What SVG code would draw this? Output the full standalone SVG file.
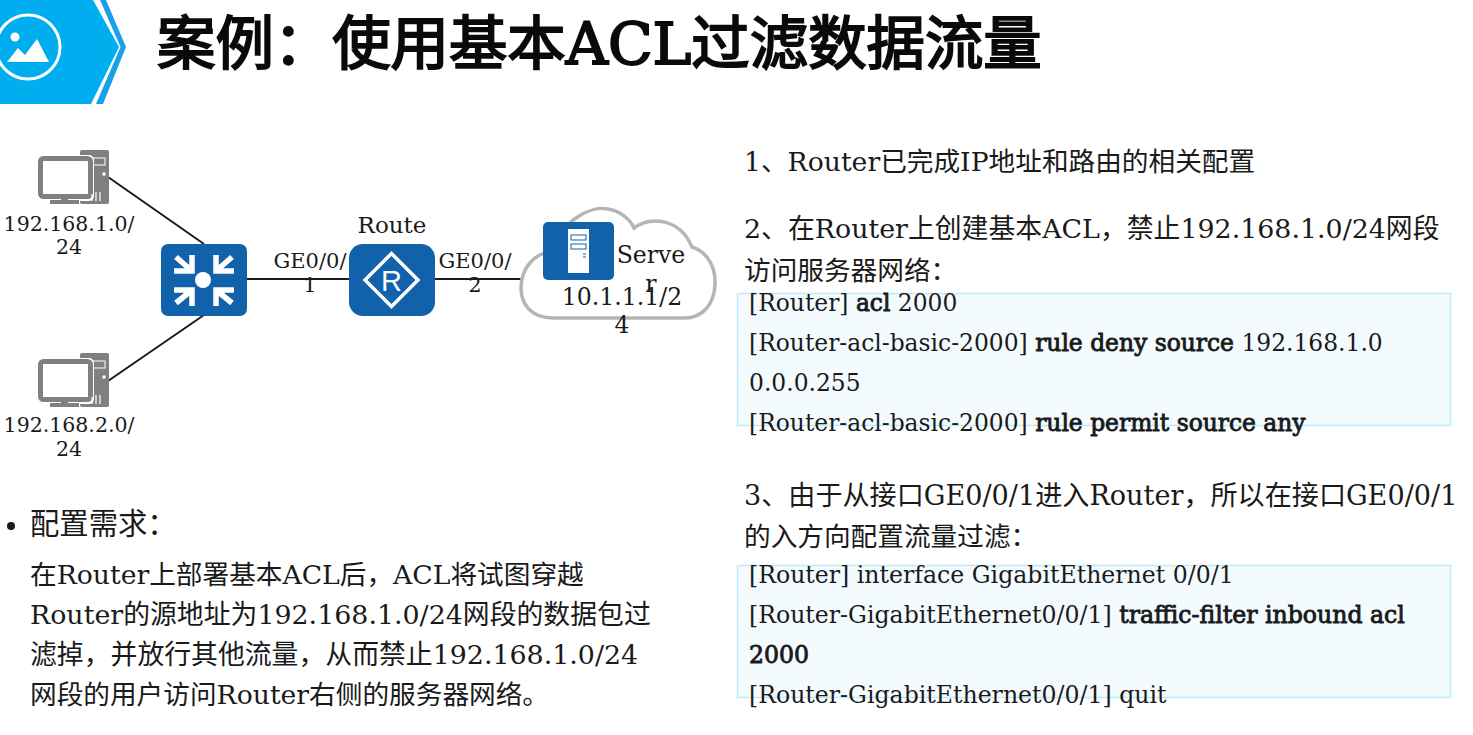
<svg xmlns="http://www.w3.org/2000/svg" width="1473" height="735" viewBox="0 0 1473 735">
<style>
text{font-family:"DejaVu Serif","Noto Sans CJK SC",serif;fill:#1a1a1a}
.t{font-size:26.67px}
.u{font-size:26.85px}
.l{font-size:20.5px;text-anchor:middle}
.g{font-size:21px;text-anchor:middle}
.c{font-size:23.6px;text-anchor:middle}
.s{font-size:23.4px}
.v{font-size:23.6px}
.b{stroke:#1a1a1a;stroke-width:.85px}
.box{fill:#f4fbff;stroke:#bfe9fb;stroke-width:1.5}
.line{stroke:#1a1a1a;stroke-width:2;fill:none}
.tile{fill:#1262ab}
</style>
<defs>
<g id="pc">
<rect x="80" y="0" width="29" height="54" rx="2" fill="#808080"/>
<rect x="91" y="8" width="14" height="7" fill="none" stroke="#fff" stroke-width="1"/>
<rect x="37" y="5" width="57" height="46" rx="5" fill="#fff"/>
<rect x="40.500" y="8.500" width="50" height="38" rx="3" fill="#fff" stroke="#808080" stroke-width="5"/>
<rect x="50" y="50" width="29" height="4" fill="#808080"/>
<rect x="61" y="47" width="7" height="5" fill="#808080"/>
<circle cx="104" cy="24" r="1.800" fill="#fff"/>
<path d="M92 44v7M96 42v9M100 42v9" stroke="#fff" stroke-width="1.200"/>
</g>
</defs>
<g id="banner">
<path d="M0 0H93L119 47L91 104H0Z" fill="#00aeef"/>
<path d="M100 0H106L126 47L103 104H96L120.500 47Z" fill="#1aa0e8"/>
<circle cx="28" cy="47" r="32" fill="none" stroke="#fff" stroke-width="3"/>
<circle cx="15" cy="37" r="4.500" fill="#fff"/>
<path d="M7 62L18 48L25 55L37 39L49 62Z" fill="#fff"/>
</g>
<text x="157" y="64" font-size="58.4" style="fill:#0a0a0a;stroke:#0a0a0a;stroke-width:2px">案例：使用基本ACL过滤数据流量</text>
<g id="connectors">
<path class="line" d="M108 177L204 244M108 381L204 315M247 279H350M435 279H521"/>
</g>
<g id="pc1"><use href="#pc" y="150"/><text class="l" x="69" y="231">192.168.1.0/</text><text class="l" x="69" y="254">24</text></g>
<g id="pc2"><use href="#pc" y="353"/><text class="l" x="69" y="432">192.168.2.0/</text><text class="l" x="69" y="456">24</text></g>
<g id="switch">
<rect class="tile" x="161" y="244" width="86" height="72" rx="7"/>
<circle cx="203" cy="280" r="8" fill="#fff"/>
<g fill="none" stroke="#fff" stroke-width="5.500">
<path d="M176 257L192 271M192 255V271H174"/>
<path d="M232 257L216 271M216 255V271H234"/>
<path d="M176 303L192 290M192 306V290H174"/>
<path d="M232 303L216 290M216 306V290H234"/>
</g>
</g>
<g id="router">
<rect class="tile" x="349" y="244" width="86" height="72" rx="14"/>
<path d="M391.500 253.500L418 280L391.500 306.500L365 280Z" fill="none" stroke="#fff" stroke-width="3.500"/>
<text x="391.500" y="291" text-anchor="middle" font-size="29" style="font-family:'Liberation Sans',sans-serif;fill:#fff">R</text>
<text x="392" y="233" font-size="23" text-anchor="middle">Route</text>
</g>
<g id="l1"><text class="g" x="310" y="268">GE0/0/</text><text class="g" x="310" y="292">1</text></g>
<g id="l2"><text class="g" x="475" y="268">GE0/0/</text><text class="g" x="475" y="292">2</text></g>
<g id="cloud">
<path d="M553 318C530 318 521 303 521 288C521 268 535 252 553 252C560 222 590 205 608 209C620 211 630 219 634 228C650 216 680 218 692 247C708 252 716 268 715 285C714 305 702 318 685 318Z" fill="#fff" stroke="#b5b5b5" stroke-width="3.500"/>
<rect class="tile" x="543" y="222" width="71" height="58" rx="5"/>
<rect x="568" y="229" width="21" height="44" fill="#fff"/>
<rect x="571" y="235" width="15" height="5" fill="#fff" stroke="#1262ab" stroke-width="1"/>
<rect x="571" y="244" width="15" height="5" fill="#fff" stroke="#1262ab" stroke-width="1"/>
<path d="M583 254h3M583 257h3" stroke="#1262ab" stroke-width="1"/>
<text class="c" x="651" y="263">Serve</text>
<text class="c" x="651" y="292">r</text>
<text class="c" x="622" y="305">10.1.1.1/2</text>
<text class="c" x="622" y="333">4</text>
</g>
<g id="req">
<circle cx="11" cy="526" r="4" fill="#1a1a1a"/>
<text x="30" y="534" font-size="29.33">配置需求：</text>
<text class="t" x="30" y="584">在Router上部署基本ACL后，ACL将试图穿越</text>
<text class="u" x="30" y="624">Router的源地址为192.168.1.0/24网段的数据包过</text>
<text class="u" x="30" y="664">滤掉，并放行其他流量，从而禁止192.168.1.0/24</text>
<text class="t" x="30" y="704">网段的用户访问Router右侧的服务器网络。</text>
</g>
<g id="steps">
<text class="t" x="744" y="171">1、Router已完成IP地址和路由的相关配置</text>
<text class="u" x="744" y="238">2、在Router上创建基本ACL，禁止192.168.1.0/24网段</text>
<text class="t" x="744" y="280">访问服务器网络：</text>
<rect class="box" x="737.500" y="293.500" width="713" height="132"/>
<text class="s" x="749" y="311">[Router] <tspan class="b">acl</tspan> 2000</text>
<text class="s" x="749" y="351">[Router-acl-basic-2000] <tspan class="b">rule deny source</tspan> 192.168.1.0</text>
<text class="s" x="749" y="391">0.0.0.255</text>
<text class="s" x="749" y="431">[Router-acl-basic-2000] <tspan class="b">rule permit source any</tspan></text>
<text x="744" y="505" font-size="27.1">3、由于从接口GE0/0/1进入Router，所以在接口GE0/0/1</text>
<text class="t" x="744" y="546">的入方向配置流量过滤：</text>
<rect class="box" x="737.500" y="565.500" width="713" height="132"/>
<text class="v" x="749" y="583">[Router] interface GigabitEthernet 0/0/1</text>
<text class="v" x="749" y="623">[Router-GigabitEthernet0/0/1] <tspan class="b">traffic-filter inbound acl</tspan></text>
<text class="v b" x="749" y="663">2000</text>
<text class="v" x="749" y="703">[Router-GigabitEthernet0/0/1] quit</text>
</g>
</svg>
